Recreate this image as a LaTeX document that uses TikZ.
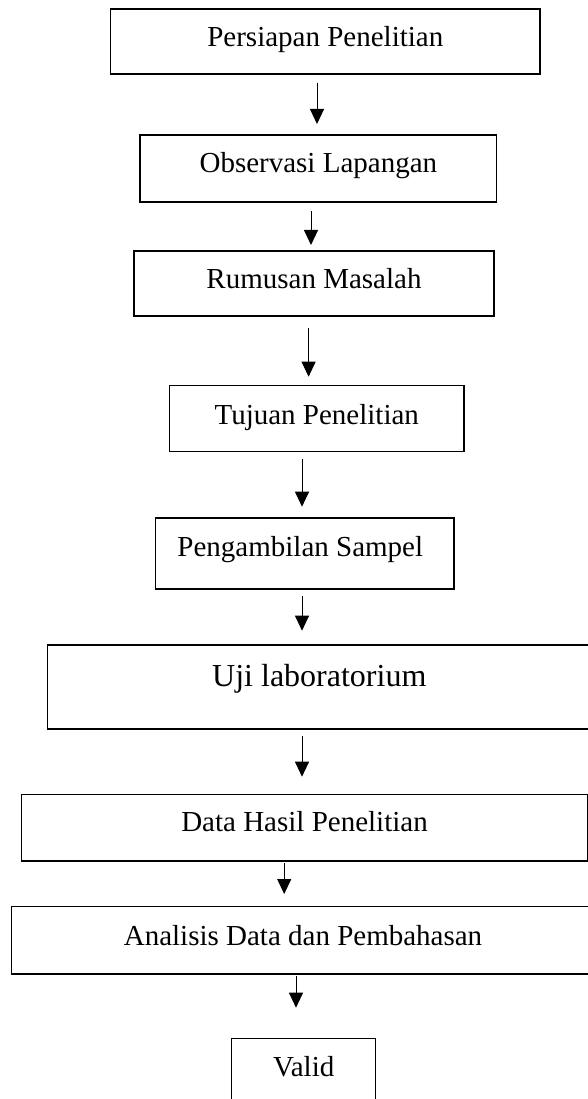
\documentclass[tikz,border=0pt]{standalone}
\usepackage{fontspec}
\setmainfont{Liberation Serif}
\usetikzlibrary{arrows.meta}
\tikzset{
  stepbox/.style={draw=black, line width=1.2pt, anchor=north west, inner xsep=0pt, inner ysep=0pt, outer sep=0pt, align=center, font=\fontsize{29}{34}\selectfont},
  arr/.style={line width=1pt, -{Triangle[width=14pt,length=15pt]}}
}
\begin{document}
\begin{tikzpicture}[x=1pt,y=-1pt]
\useasboundingbox (0,0) rectangle (588,1099);
\clip (0,0) rectangle (588,1099);
% boxes: (left,top), width = right-left, text height = baseline-top, text depth = bottom-baseline
\node[stepbox, minimum width=429.4pt, text height=37.7pt, text depth=27.3pt] (b1) at (110.6,9) {Persiapan Penelitian};
\node[stepbox, minimum width=356.7pt, text height=37.7pt, text depth=29.3pt] (b2) at (140,135) {Observasi Lapangan};
\node[stepbox, minimum width=360pt, text height=37.3pt, text depth=27.7pt] (b3) at (134,251) {Rumusan Masalah};
\node[stepbox, minimum width=294.5pt, text height=38.3pt, text depth=27.3pt] (b4) at (169.5,385.7) {Tujuan Penelitian};
\node[stepbox, minimum width=298.4pt, text height=38.7pt, text depth=32.3pt] (b5) at (155.6,518) {Pengambilan Sampel\hspace*{9pt}};
\node[stepbox, minimum width=543.4pt, text height=41pt, text depth=43pt, font=\fontsize{32}{38}\selectfont] (b6) at (47.6,645) {Uji laboratorium};
\node[stepbox, minimum width=565.6pt, text height=37.4pt, text depth=29.3pt] (b7) at (21.7,794.3) {Data Hasil Penelitian};
\node[stepbox, minimum width=582.8pt, text height=38.3pt, text depth=29pt] (b8) at (11.6,906.7) {Analisis Data dan Pembahasan};
\node[stepbox, minimum width=144pt, text height=38pt, text depth=38pt] (b9) at (231.7,1038.7) {Valid};
% arrow end points
\coordinate (s1) at (317,82.7);   \coordinate (e1) at (317,124);
\coordinate (s2) at (311,211);    \coordinate (e2) at (311,245);
\coordinate (s3) at (308.6,328);  \coordinate (e3) at (308.6,376.7);
\coordinate (s4) at (302,459.3);  \coordinate (e4) at (302,506.7);
\coordinate (s5) at (302,595.7);  \coordinate (e5) at (302,630.7);
\coordinate (s6) at (302,736);    \coordinate (e6) at (302,776.7);
\coordinate (s7) at (284.2,863.3);\coordinate (e7) at (284.2,894);
\coordinate (s8) at (296,976);    \coordinate (e8) at (296,1007.7);
\draw[arr] (s1) -- (e1);
\draw[arr] (s2) -- (e2);
\draw[arr] (s3) -- (e3);
\draw[arr] (s4) -- (e4);
\draw[arr] (s5) -- (e5);
\draw[arr] (s6) -- (e6);
\draw[arr] (s7) -- (e7);
\draw[arr] (s8) -- (e8);
\end{tikzpicture}
\end{document}
